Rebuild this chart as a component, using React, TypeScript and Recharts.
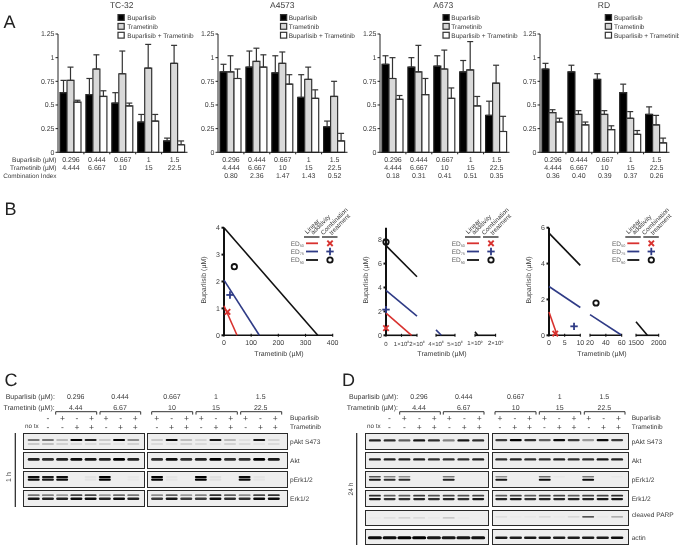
import React from "react";
import { BarChart, Bar, XAxis, YAxis, ErrorBar, ScatterChart, Scatter } from "recharts";

const FONT = "'Liberation Sans', Arial, sans-serif";
const TXT = "#3a3a3a";
const LAYER: React.CSSProperties = { willChange: "transform", textRendering: "geometricPrecision" };

/* ---------- Panel A data ---------- */
const bupDoses = ["0.296", "0.444", "0.667", "1", "1.5"];
const traDoses = ["4.444", "6.667", "10", "15", "22.5"];

const tc32Bup = [0.63, 0.61, 0.52, 0.32, 0.12];
const tc32Tra = [0.76, 0.88, 0.83, 0.89, 0.94];
const tc32Com = [0.53, 0.59, 0.49, 0.33, 0.08];
const tc32BupTop = [0.76, 0.78, 0.63, 0.4, 0.15];
const tc32TraTop = [0.9, 1.03, 1.07, 1.14, 1.13];
const tc32ComTop = [0.55, 0.65, 0.52, 0.4, 0.12];
const tc32CI: string[] = [];

const a4573Bup = [0.85, 0.9, 0.84, 0.58, 0.27];
const a4573Tra = [0.85, 0.96, 0.94, 0.77, 0.59];
const a4573Com = [0.78, 0.9, 0.72, 0.57, 0.12];
const a4573BupTop = [0.93, 1.07, 1.02, 0.82, 0.33];
const a4573TraTop = [1.02, 1.1, 1.06, 0.9, 0.75];
const a4573ComTop = [0.88, 1.03, 0.82, 0.66, 0.2];
const a4573CI = ["0.80", "2.36", "1.47", "1.43", "0.52"];

const a673Bup = [0.93, 0.9, 0.91, 0.85, 0.39];
const a673Tra = [0.78, 0.85, 0.88, 0.87, 0.73];
const a673Com = [0.56, 0.61, 0.57, 0.49, 0.22];
const a673BupTop = [1.02, 1.0, 1.02, 0.97, 0.54];
const a673TraTop = [1.0, 1.13, 1.08, 1.17, 0.92];
const a673ComTop = [0.6, 0.78, 0.68, 0.59, 0.38];
const a673CI = ["0.18", "0.31", "0.41", "0.51", "0.35"];

const rdBup = [0.88, 0.85, 0.77, 0.63, 0.4];
const rdTra = [0.42, 0.4, 0.4, 0.36, 0.29];
const rdCom = [0.32, 0.29, 0.24, 0.19, 0.1];
const rdBupTop = [0.94, 0.92, 0.83, 0.72, 0.48];
const rdTraTop = [0.45, 0.44, 0.44, 0.43, 0.39];
const rdComTop = [0.36, 0.32, 0.28, 0.23, 0.15];
const rdCI = ["0.36", "0.40", "0.39", "0.37", "0.26"];

const yTicksA = [0, 0.25, 0.5, 0.75, 1, 1.25];
const legendNames = ["Buparlisib", "Trametinib", "Buparlisib + Trametinib"];
const legendFills = ["#000", "#d9d9d9", "#fff"];

const rows = (b: number[], t: number[], c: number[], bt: number[], tt: number[], ct: number[]) =>
  bupDoses.map((d, i) => ({
    dose: d,
    b: b[i], t: t[i], c: c[i],
    be: [0, bt[i] - b[i]], te: [0, tt[i] - t[i]], ce: [0, ct[i] - c[i]],
  }));

function BarPanel(p: { x: number; data: any[]; ci: string[] }) {
  const plotW = 129.5, ML = 30, top = 20, mt = 14, W = ML + plotW + 15, H = 170, xh = 37.7;
  const bottom = H - xh;
  const Tick = (t: any) => {
    const i = t.index;
    return (
      <g fontFamily={FONT} fontSize={7} fill={TXT} textAnchor="middle">
        {i < 4 && <line x1={t.x + 12.95} x2={t.x + 12.95} y1={bottom} y2={bottom + 2} stroke="#222" />}
        <text x={t.x} y={bottom + 9.3}>{bupDoses[i]}</text>
        <text x={t.x} y={bottom + 17.8}>{traDoses[i]}</text>
        {p.ci.length > 0 && <text x={t.x} y={bottom + 25.8}>{p.ci[i]}</text>}
      </g>
    );
  };
  return (
    <div style={{ position: "absolute", left: p.x - ML, top, ...LAYER }}>
      <BarChart width={W} height={H} data={p.data} margin={{ top: mt, right: 15, left: 0, bottom: 0 }} barSize={7} barGap={0}>
        <XAxis dataKey="dose" height={xh} interval={0} tick={Tick} tickLine={false} stroke="#222" />
        <YAxis width={ML} domain={[0, 1.25]} ticks={yTicksA} tickSize={2.5} tickMargin={1} interval={0}
          tick={{ fontSize: 7, fill: TXT, fontFamily: FONT }} stroke="#222" tickFormatter={(v: number) => String(v)} />
        <Bar dataKey="b" fill={legendFills[0]} stroke="#222" strokeWidth={1.2} isAnimationActive={false}>
          <ErrorBar dataKey="be" width={3} stroke="#333" strokeWidth={1.2} direction="y" />
        </Bar>
        <Bar dataKey="t" fill={legendFills[1]} stroke="#333" strokeWidth={1.2} isAnimationActive={false}>
          <ErrorBar dataKey="te" width={3} stroke="#333" strokeWidth={1.2} direction="y" />
        </Bar>
        <Bar dataKey="c" fill={legendFills[2]} stroke="#333" strokeWidth={1.2} isAnimationActive={false}>
          <ErrorBar dataKey="ce" width={3} stroke="#333" strokeWidth={1.2} direction="y" />
        </Bar>
      </BarChart>
    </div>
  );
}

/* ---------- Panel B data ---------- */
type Seg = { x: number; y: number }[];
const RED = "#d8322f", BLUE = "#2f3b86", BLK = "#111";

const b1Black: Seg = [{ x: 0, y: 4 }, { x: 345, y: 0 }];
const b1Blue: Seg = [{ x: 0, y: 2.05 }, { x: 130, y: 0 }];
const b1Red: Seg = [{ x: 0, y: 1.1 }, { x: 48, y: 0 }];
const b1Cross = [{ x: 13, y: 0.87 }];
const b1Plus = [{ x: 22, y: 1.5 }];
const b1Circle = [{ x: 38, y: 2.55 }];

const b2Black: Seg = [{ x: 0, y: 7.5 }, { x: 2e8, y: 4.9 }];
const b2Blue: Seg = [{ x: 0, y: 3.75 }, { x: 2e8, y: 1.6 }];
const b2Red: Seg = [{ x: 0, y: 1.85 }, { x: 1.65e8, y: 0 }];
const b2Blue2: Seg = [{ x: 4e8, y: 0.45 }, { x: 4.28e8, y: 0 }];
const b2Black3: Seg = [{ x: 1e9, y: 0.3 }, { x: 1.13e9, y: 0 }];
const b2Cross = [{ x: 0, y: 0.6 }];
const b2Plus = [{ x: 0, y: 2.15 }];
const b2Circle = [{ x: 0, y: 7.8 }];

const b3Black: Seg = [{ x: 0, y: 5.7 }, { x: 10, y: 3.9 }];
const b3Blue: Seg = [{ x: 0, y: 2.72 }, { x: 10, y: 1.55 }];
const b3Red: Seg = [{ x: 0, y: 1.3 }, { x: 2.6, y: 0 }];
const b3Blue2: Seg = [{ x: 20, y: 1.15 }, { x: 60, y: 0 }];
const b3Black3: Seg = [{ x: 1500, y: 0.75 }, { x: 1750, y: 0 }];
const b3Cross = [{ x: 2, y: 0.1 }];
const b3Plus = [{ x: 8, y: 0.5 }];
const b3Circle = [{ x: 27.6, y: 1.8 }];

const sciLabel = (v: number) => {
  if (v === 0) return ["0", ""];
  const e = Math.floor(Math.log10(v) + 1e-9);
  return [`${Math.round(v / Math.pow(10, e))}×10`, String(e)];
};

type Mk = "x" | "+" | "o";
const MarkShape = (kind: Mk) => (s: any) => {
  const { cx, cy } = s;
  if (kind === "x")
    return <g stroke={RED} strokeWidth={1.9}><line x1={cx - 2.7} y1={cy - 2.7} x2={cx + 2.7} y2={cy + 2.7} /><line x1={cx - 2.7} y1={cy + 2.7} x2={cx + 2.7} y2={cy - 2.7} /></g>;
  if (kind === "+")
    return <g stroke={BLUE} strokeWidth={1.8}><line x1={cx - 3.7} y1={cy} x2={cx + 3.7} y2={cy} /><line x1={cx} y1={cy - 3.7} x2={cx} y2={cy + 3.7} /></g>;
  return <circle cx={cx} cy={cy} r={2.7} fill="none" stroke={BLK} strokeWidth={1.8} />;
};
const noDot = () => <g />;

function AxisSeg(p: {
  left: number; width: number; xDomain: number[]; xTicks: number[]; yTicks?: number[];
  showY?: boolean; domY: number[]; lines: [Seg, string][]; marks: [any[], Mk][]; sci?: boolean;
}) {
  const ML = 24, MR = 20, top = 220, mt = 7.7, H = 145, xh = 29.7;
  const XTick = (t: any) => {
    const [a, b] = p.sci ? sciLabel(t.payload.value) : [String(t.payload.value), ""];
    return (
      <g>
        <line x1={t.x} x2={t.x} y1={H - xh - 1.5} y2={H - xh + 1.5} stroke="#111" strokeWidth={1.1} />
        <text x={t.x} y={H - xh + 10.2} textAnchor="middle" fontSize={p.sci ? 6 : 7} fontFamily={FONT} fill={TXT}>
          {a}{b && <tspan dy={-2.5} fontSize={3.4}>{b}</tspan>}
        </text>
      </g>
    );
  };
  return (
    <div style={{ position: "absolute", left: p.left - ML, top, ...LAYER }}>
      <ScatterChart width={ML + p.width + MR} height={H} margin={{ top: mt, right: MR, left: p.showY ? 0 : ML, bottom: 0 }}>
        <XAxis type="number" dataKey="x" domain={p.xDomain as any} ticks={p.xTicks} interval={0} height={xh}
          tick={XTick} tickLine={false} stroke="#111" strokeWidth={1.6} />
        <YAxis type="number" dataKey="y" domain={p.domY as any} ticks={p.yTicks} interval={0} hide={!p.showY}
          width={ML} tickSize={2.5} tickMargin={1.5} stroke="#111" strokeWidth={2}
          tick={{ fontSize: 7, fill: TXT, fontFamily: FONT }} />
        {p.lines.map(([d, c], i) => (
          <Scatter key={i} data={d} shape={noDot} line={{ stroke: c, strokeWidth: 1.6 }} isAnimationActive={false} />
        ))}
        {p.marks.map(([d, k], i) => (
          <Scatter key={"m" + i} data={d} shape={MarkShape(k)} isAnimationActive={false} />
        ))}
      </ScatterChart>
    </div>
  );
}

/* ---------- Panels C and D data ---------- */
const cPAktL = [0.5, 0.5, 0.22, 1, 0.85, 0.15, 1, 0.4];
const cPAktFaintL = [0.2, 0.25, 0.15, 0.1, 0.1, 0.15, 0.05, 0.15];
const cPAktR = [0.15, 0.95, 0.2, 0.1, 0.9, 0.22, 0.05, 0.9, 0.1];
const cPAktFaintR = [0.1, 0.05, 0.15, 0.1, 0.05, 0.15, 0.1, 0.05, 0.1];
const cAktL = [0.85, 0.8, 0.85, 0.95, 0.9, 0.85, 1, 0.85];
const cAktR = [0.8, 0.95, 0.8, 0.85, 1, 0.8, 0.8, 1, 0.9];
const cPErkL = [0.95, 0.9, 0.95, 0, 0.04, 1, 0, 0.02];
const cPErkR = [1, 0.03, 0, 1, 0.05, 0, 0.95, 0.03, 0];
const cErkUpL = [0.5, 0.45, 0.35, 0.7, 0.7, 0.35, 0.55, 0.5];
const cErkLoL = [0.9, 0.85, 0.85, 0.95, 0.95, 0.85, 0.95, 0.85];
const cErkUpR = [0.4, 0.6, 0.35, 0.45, 0.8, 0.6, 0.4, 0.7, 0.8];
const cErkLoR = [0.75, 0.9, 0.75, 0.75, 0.95, 0.8, 0.8, 0.95, 0.95];

const dPAktL = [0.85, 0.8, 0.6, 0.9, 0.8, 0.45, 0.9, 0.8];
const dPAktR = [0.75, 1, 0.8, 0.6, 0.95, 0.75, 0.35, 0.95, 0.75];
const dAktL = [0.85, 0.85, 0.85, 0.85, 0.8, 0.8, 0.8, 0.85];
const dAktR = [0.8, 0.85, 0.8, 0.8, 0.85, 0.8, 0.8, 0.9, 0.85];
const dPErkUpL = [0.65, 0.45, 0.4, 0, 0, 0.5, 0, 0];
const dPErkLoL = [0.9, 0.8, 0.8, 0, 0, 0.85, 0, 0];
const dPErkUpR = [0.4, 0, 0, 0.55, 0.02, 0, 0.5, 0, 0.02];
const dPErkLoR = [0.9, 0, 0, 0.95, 0, 0, 0.95, 0, 0];
const dErkUpL = [0.8, 0.6, 0.6, 0.75, 0.65, 0.7, 0.65, 0.7];
const dErkLoL = [0.9, 0.8, 0.8, 0.85, 0.8, 0.85, 0.8, 0.9];
const dErkUpR = [0.6, 0.7, 0.6, 0.7, 0.7, 0.6, 0.7, 0.7, 0.8];
const dErkLoR = [0.85, 0.9, 0.8, 0.85, 0.85, 0.85, 0.85, 0.9, 0.9];
const dParpL = [0.02, 0.08, 0.15, 0.1, 0.03, 0.2, 0.02, 0];
const dParpR = [0.08, 0.02, 0.03, 0.1, 0.02, 0.12, 0.85, 0.03, 0.35];
const dActinL = [0.95, 0.95, 1, 1, 0.9, 0.9, 0.9, 0.92];
const dActinR = [0.9, 0.88, 0.9, 0.9, 0.88, 0.88, 0.88, 0.88, 0.95];

const bupSignsL = ["-", "+", "-", "+", "+", "-", "+"];
const traSignsL = ["-", "-", "+", "+", "-", "+", "+"];
const bupSignsR = ["+", "-", "+", "+", "-", "+", "+", "-", "+"];
const traSignsR = ["-", "+", "+", "-", "+", "+", "-", "+", "+"];
const wbBup = ["0.296", "0.444", "0.667", "1", "1.5"];
const wbTra = ["4.44", "6.67", "10", "15", "22.5"];

type Band = { levels: number[]; pos: number; thick: number };
const bandShape = (thick: number, wid: number) => (s: any) => {
  const lv = s.payload.level;
  return <rect x={s.cx - wid / 2} y={s.cy - thick / 2} width={wid} height={thick} rx={thick / 2}
    fill="#000" opacity={lv} style={{ filter: "blur(0.6px)" }} />;
};

function Blot(p: { x: number; w: number; y: number; h: number; padL: number; padR: number; bands: Band[]; wid?: number }) {
  const n = p.bands[0].levels.length;
  return (
    <div style={{ position: "absolute", left: p.x, top: p.y, width: p.w, height: p.h, boxSizing: "border-box",
      background: "#eeeeee", border: "1.3px solid #2a2a2a" }}>
      <div style={{ position: "absolute", left: 0, top: 0 }}>
        <ScatterChart width={p.w - 3} height={p.h - 3} margin={{ top: 0, right: 0, left: 0, bottom: 0 }}>
          <XAxis type="number" dataKey="lane" hide domain={[-p.padL, n - 1 + p.padR]} />
          <YAxis type="number" dataKey="pos" hide domain={[0, 1]} reversed />
          {p.bands.map((b, i) => (
            <Scatter key={i} isAnimationActive={false} shape={bandShape(b.thick, p.wid ?? 12)}
              data={b.levels.map((level, lane) => ({ lane, pos: b.pos, level })).filter((d) => d.level > 0)} />
          ))}
        </ScatterChart>
      </div>
    </div>
  );
}

/* overlay helpers */
const T = (p: { x: number; y: number; s?: number; a?: "start" | "middle" | "end"; c?: string; t: React.ReactNode; r?: number }) => (
  <text x={p.x} y={p.y} fontSize={p.s ?? 7} textAnchor={p.a ?? "start"} fill={p.c ?? TXT} fontFamily={FONT}
    transform={p.r != null ? `rotate(${p.r} ${p.x} ${p.y})` : undefined}>{p.t}</text>
);

function BarLegend({ x, tx }: { x: number; tx: number }) {
  return (
    <g>
      {legendNames.map((n, i) => (
        <g key={n}>
          <rect x={x} y={14.6 + i * 8.85} width={6.2} height={5.8} fill={legendFills[i]} stroke="#333" strokeWidth={1.2} />
          <T x={tx} y={20 + i * 8.85} s={6.5} t={n} />
        </g>
      ))}
    </g>
  );
}

function EDLegend({ x }: { x: number }) {
  const names = ["50", "75", "90"];
  const cols = [RED, BLUE, BLK];
  const ys = [243.3, 251.5, 260];
  const kinds: Mk[] = ["x", "+", "o"];
  return (
    <g>
      <T x={x + 3.3} y={234.2} s={6.3} r={-45} t="Linear" />
      <T x={x + 9.3} y={234.7} s={6.3} r={-45} t="additivity" />
      <T x={x + 19.3} y={235.2} s={6.3} r={-45} t="Combination" />
      <T x={x + 27.7} y={235.2} s={6.3} r={-45} t="treatment" />
      <line x1={x} x2={x + 15.5} y1={237} y2={237} stroke="#333" strokeWidth={1.4} />
      <line x1={x + 18} x2={x + 33.5} y1={237} y2={237} stroke="#333" strokeWidth={1.4} />
      {names.map((n, i) => (
        <g key={n}>
          <text x={x - 13.3} y={ys[i] + 2.2} fontSize={6.5} fill="#666" fontFamily={FONT}>ED<tspan dy={1.5} fontSize={3.8}>{n}</tspan></text>
          <line x1={x + 2} x2={x + 14} y1={ys[i]} y2={ys[i]} stroke={cols[i]} strokeWidth={1.8} />
          {MarkShape(kinds[i])({ cx: x + 26, cy: ys[i] })}
        </g>
      ))}
    </g>
  );
}

function WbHeader(p: {
  bupX: number; traX: number; valX: number[]; br: [number, number][];
  lanesL: number[]; lanesR: number[]; rightX: number; noTxX: number; labels: [string, number][];
}) {
  return (
    <g>
      <T x={p.bupX} y={399} t="Buparlisib (µM):" s={7} />
      <T x={p.traX} y={409.6} t="Trametinib (µM):" s={7} />
      {p.valX.map((x, i) => (
        <g key={i}>
          <T x={x} y={399} a="middle" t={wbBup[i]} />
          <T x={x} y={409.6} a="middle" t={wbTra[i]} />
          <path d={`M${p.br[i][0]} 414.6 V411.7 H${p.br[i][1]} V414.6`} fill="none" stroke="#333" strokeWidth={1} />
        </g>
      ))}
      {bupSignsL.map((s, i) => (
        <g key={i}>
          <T x={p.lanesL[i + 1]} y={420.5} a="middle" s={8.5} t={s} />
          <T x={p.lanesL[i + 1]} y={429.5} a="middle" s={8.5} t={traSignsL[i]} />
        </g>
      ))}
      {bupSignsR.map((s, i) => (
        <g key={i}>
          <T x={p.lanesR[i]} y={420.5} a="middle" s={8.5} t={s} />
          <T x={p.lanesR[i]} y={429.5} a="middle" s={8.5} t={traSignsR[i]} />
        </g>
      ))}
      <T x={p.noTxX} y={428} s={6.3} t="no tx" />
      <T x={p.rightX} y={420} s={6.6} t="Buparlisib" />
      <T x={p.rightX} y={429} s={6.6} t="Trametinib" />
      {p.labels.map(([t, y]) => <T key={t} x={p.rightX} y={y} s={6.6} t={t} />)}
    </g>
  );
}

const range = (a: number, step: number, n: number) => Array.from({ length: n }, (_, i) => a + i * step);

export default function App() {
  const blotRowsC = [432.7, 452.2, 471.2, 490.2];
  const rowH = 16.9;
  const cL = { x: 23, w: 122, padL: 0.68, padR: 0.68 };
  const cR = { x: 147, w: 140.5, padL: 0.62, padR: 0.8 };
  const dL = { x: 365, w: 123.5, padL: 0.6, padR: 0.56 };
  const dR = { x: 491.5, w: 137, padL: 0.57, padR: 0.68 };
  const dRows = [433, 452.3, 471.3, 490.3, 509.6, 528.6];
  return (
    <div style={{ position: "absolute", left: 0, top: 0, width: 679, height: 548, background: "#fff", overflow: "hidden" }}>
      <BarPanel x={57.7} ci={tc32CI} data={rows(tc32Bup, tc32Tra, tc32Com, tc32BupTop, tc32TraTop, tc32ComTop)} />
      <BarPanel x={218.2} ci={a4573CI} data={rows(a4573Bup, a4573Tra, a4573Com, a4573BupTop, a4573TraTop, a4573ComTop)} />
      <BarPanel x={379.8} ci={a673CI} data={rows(a673Bup, a673Tra, a673Com, a673BupTop, a673TraTop, a673ComTop)} />
      <BarPanel x={540.4} ci={rdCI} data={rows(rdBup, rdTra, rdCom, rdBupTop, rdTraTop, rdComTop)} />

      <AxisSeg left={224} width={108.7} xDomain={[0, 400]} xTicks={[0, 100, 200, 300, 400]} yTicks={[0, 1, 2, 3, 4]} domY={[0, 4]} showY
        lines={[[b1Black, BLK], [b1Blue, BLUE], [b1Red, RED]]} marks={[[b1Cross, "x"], [b1Plus, "+"], [b1Circle, "o"]]} />

      <AxisSeg left={386.3} width={31} xDomain={[0, 2e8]} xTicks={[0, 1e8, 2e8]} yTicks={[0, 2, 4, 6, 8]} domY={[0, 9]} showY sci
        lines={[[b2Black, BLK], [b2Blue, BLUE], [b2Red, RED]]} marks={[[b2Cross, "x"], [b2Plus, "+"], [b2Circle, "o"]]} />
      <AxisSeg left={436.3} width={19} xDomain={[4e8, 5e8]} xTicks={[4e8, 5e8]} domY={[0, 9]} sci lines={[[b2Blue2, BLUE]]} marks={[]} />
      <AxisSeg left={474.7} width={20.6} xDomain={[1e9, 2e9]} xTicks={[1e9, 2e9]} domY={[0, 9]} sci lines={[[b2Black3, BLK]]} marks={[]} />

      <AxisSeg left={548.7} width={31.3} xDomain={[0, 10]} xTicks={[0, 5, 10]} yTicks={[0, 2, 4, 6]} domY={[0, 6]} showY
        lines={[[b3Black, BLK], [b3Blue, BLUE], [b3Red, RED]]} marks={[[b3Cross, "x"], [b3Plus, "+"]]} />
      <AxisSeg left={590} width={31.7} xDomain={[20, 60]} xTicks={[20, 40, 60]} domY={[0, 6]} lines={[[b3Blue2, BLUE]]} marks={[[b3Circle, "o"]]} />
      <AxisSeg left={636} width={22.7} xDomain={[1500, 2000]} xTicks={[1500, 2000]} domY={[0, 6]} lines={[[b3Black3, BLK]]} marks={[]} />

      {/* Panel C blots */}
      <Blot {...cL} y={blotRowsC[0]} h={rowH} bands={[{ levels: cPAktL, pos: 0.44, thick: 2 }, { levels: cPAktFaintL, pos: 0.72, thick: 1.5 }]} />
      <Blot {...cR} y={blotRowsC[0]} h={rowH} bands={[{ levels: cPAktR, pos: 0.44, thick: 2 }, { levels: cPAktFaintR, pos: 0.72, thick: 1.5 }]} />
      <Blot {...cL} y={blotRowsC[1]} h={rowH} bands={[{ levels: cAktL, pos: 0.46, thick: 2.8 }]} />
      <Blot {...cR} y={blotRowsC[1]} h={rowH} bands={[{ levels: cAktR, pos: 0.46, thick: 2.8 }]} />
      <Blot {...cL} y={blotRowsC[2]} h={rowH} bands={[{ levels: cPErkL, pos: 0.36, thick: 2.2 }, { levels: cPErkL, pos: 0.55, thick: 2.2 }]} />
      <Blot {...cR} y={blotRowsC[2]} h={rowH} bands={[{ levels: cPErkR, pos: 0.36, thick: 2.2 }, { levels: cPErkR, pos: 0.55, thick: 2.2 }]} />
      <Blot {...cL} y={blotRowsC[3]} h={rowH} bands={[{ levels: cErkUpL, pos: 0.3, thick: 1.7 }, { levels: cErkLoL, pos: 0.56, thick: 2.4 }]} />
      <Blot {...cR} y={blotRowsC[3]} h={rowH} bands={[{ levels: cErkUpR, pos: 0.3, thick: 1.7 }, { levels: cErkLoR, pos: 0.56, thick: 2.4 }]} />

      {/* Panel D blots */}
      <Blot {...dL} y={dRows[0]} h={rowH} bands={[{ levels: dPAktL, pos: 0.46, thick: 2.4 }]} />
      <Blot {...dR} y={dRows[0]} h={rowH} bands={[{ levels: dPAktR, pos: 0.44, thick: 2.4 }]} />
      <Blot {...dL} y={dRows[1]} h={rowH} bands={[{ levels: dAktL, pos: 0.46, thick: 2.4 }]} />
      <Blot {...dR} y={dRows[1]} h={rowH} bands={[{ levels: dAktR, pos: 0.46, thick: 2.4 }]} />
      <Blot {...dL} y={dRows[2]} h={rowH} bands={[{ levels: dPErkUpL, pos: 0.34, thick: 1.6 }, { levels: dPErkLoL, pos: 0.55, thick: 2 }]} />
      <Blot {...dR} y={dRows[2]} h={rowH} bands={[{ levels: dPErkUpR, pos: 0.34, thick: 1.6 }, { levels: dPErkLoR, pos: 0.55, thick: 2 }]} />
      <Blot {...dL} y={dRows[3]} h={rowH} bands={[{ levels: dErkUpL, pos: 0.34, thick: 1.7 }, { levels: dErkLoL, pos: 0.58, thick: 2.2 }]} />
      <Blot {...dR} y={dRows[3]} h={rowH} bands={[{ levels: dErkUpR, pos: 0.34, thick: 1.7 }, { levels: dErkLoR, pos: 0.58, thick: 2.2 }]} />
      <Blot {...dL} y={dRows[4]} h={rowH} bands={[{ levels: dParpL, pos: 0.5, thick: 1.2 }]} />
      <Blot {...dR} y={dRows[4]} h={rowH} bands={[{ levels: dParpR, pos: 0.42, thick: 1.2 }]} />
      <Blot {...dL} y={dRows[5]} h={rowH} bands={[{ levels: dActinL, pos: 0.56, thick: 3 }]} wid={14} />
      <Blot {...dR} y={dRows[5]} h={rowH} bands={[{ levels: dActinR, pos: 0.56, thick: 2.6 }]} wid={12.5} />

      <svg width={679} height={548} style={{ position: "absolute", left: 0, top: 0, pointerEvents: "none", ...LAYER }}>
        {/* panel letters */}
        <T x={3.5} y={28} s={18} t="A" c="#222" />
        <T x={4.5} y={215} s={18} t="B" c="#222" />
        <T x={4.5} y={386} s={18} t="C" c="#222" />
        <T x={342} y={386} s={18} t="D" c="#222" />

        {/* A titles */}
        <T x={121.7} y={8} s={8.5} a="middle" t="TC-32" />
        <T x={282.3} y={8} s={8.5} a="middle" t="A4573" />
        <T x={443.3} y={8} s={8.5} a="middle" t="A673" />
        <T x={604} y={8} s={8.5} a="middle" t="RD" />
        <BarLegend x={118} tx={127.3} />
        <BarLegend x={280.5} tx={288.7} />
        <BarLegend x={443} tx={451.3} />
        <BarLegend x={605.3} tx={614} />

        {/* row labels panel A */}
        <T x={56.5} y={161.6} a="end" s={6.6} t="Buparlisib (µM)" />
        <T x={56.5} y={170} a="end" s={6.6} t="Trametinib (µM)" />
        <T x={56.5} y={178} a="end" s={6.4} t="Combination Index" />

        {/* B axis titles */}
        <T x={279} y={355.5} a="middle" t="Trametinib (µM)" />
        <T x={442} y={355.5} a="middle" t="Trametinib (µM)" />
        <T x={602} y={355.5} a="middle" t="Trametinib (µM)" />
        <T x={205.5} y={280} a="middle" r={-90} t="Buparlisib (µM)" />
        <T x={368} y={280} a="middle" r={-90} t="Buparlisib (µM)" />
        <T x={530.5} y={280} a="middle" r={-90} t="Buparlisib (µM)" />
        <EDLegend x={304} />
        <EDLegend x={465} />
        <EDLegend x={625.3} />

        {/* C */}
        <WbHeader bupX={5.7} traX={3.5} valX={[75.7, 120, 172, 216, 260.7]}
          br={[[55.7, 96.7], [100, 140.7], [151.7, 192.7], [196, 237.3], [240.7, 281.7]]}
          lanesL={range(33.3, 14.55, 8)} lanesR={range(156.8, 14.8, 9)} rightX={290} noTxX={25}
          labels={[["pAkt S473", 444], ["Akt", 462.7], ["pErk1/2", 481.5], ["Erk1/2", 500.5]]} />
        <T x={11} y={477} a="middle" r={-90} s={7} t="1 h" />
        <line x1={15.3} x2={15.3} y1={433} y2={507} stroke="#222" strokeWidth={1.2} />

        {/* D */}
        <WbHeader bupX={349} traX={346.7} valX={[419, 463.7, 515.7, 559.7, 604.3]}
          br={[[399.7, 440.3], [443.3, 484], [495, 536], [539.3, 580.7], [584.3, 625]]}
          lanesL={range(374.3, 15, 8)} lanesR={range(500, 14.8, 9)} rightX={631.7} noTxX={367}
          labels={[["pAkt S473", 444], ["Akt", 462.7], ["pErk1/2", 481.5], ["Erk1/2", 500.5], ["cleaved PARP", 517], ["actin", 539.5]]} />
        <T x={353} y={489} a="middle" r={-90} s={6.6} t="24 h" />
        <line x1={356.7} x2={356.7} y1={433} y2={545} stroke="#222" strokeWidth={1.2} />
      </svg>
    </div>
  );
}
